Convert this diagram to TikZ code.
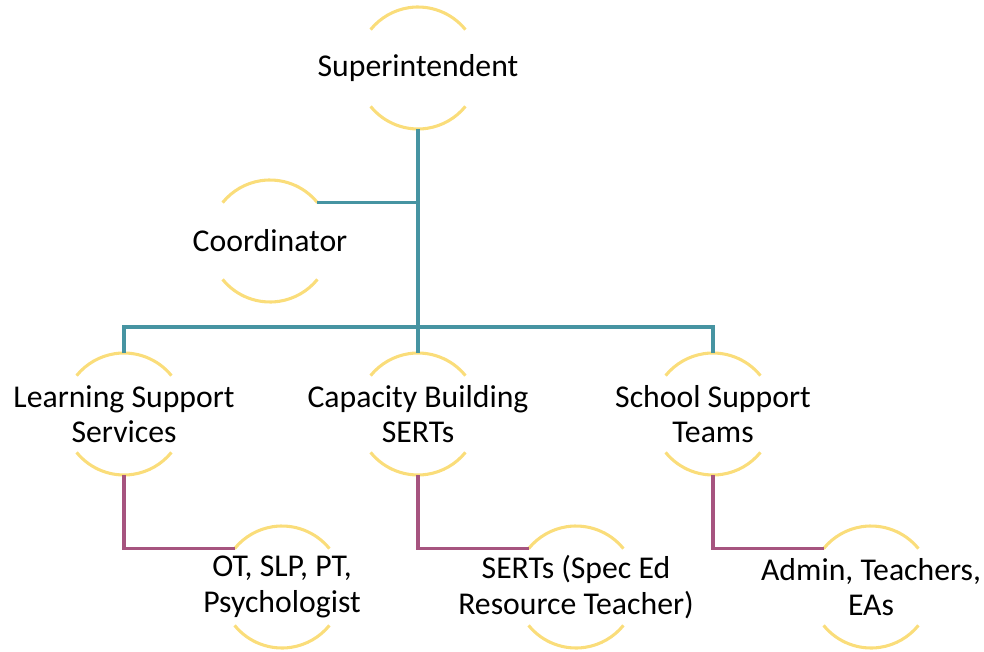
\documentclass[tikz,border=0pt]{standalone}
\usepackage{fontspec}
\setmainfont{Carlito}
\usepackage{tikz}
\usetikzlibrary{positioning}
\definecolor{ringgold}{RGB}{250,221,122}
\definecolor{linkteal}{RGB}{70,148,162}
\definecolor{linkplum}{RGB}{166,84,127}
\tikzstyle{ring}=[circle, minimum size=91.5pt, inner sep=0pt, outer sep=0pt]
\tikzstyle{roletext}=[align=center, font=\fontsize{23.8}{26.5}\selectfont, text=black]
\tikzstyle{rim}=[draw=ringgold, line width=2.3pt]
\tikzstyle{upper}=[draw=linkteal, line width=2.3pt]
\tikzstyle{lower}=[draw=linkplum, line width=2.3pt]

\begin{document}
\begin{tikzpicture}[x=0.75pt, y=0.75pt]
    \useasboundingbox (0,0) rectangle (984,651);

    % Top: superintendent and coordinator
    \node[ring, label={[roletext]center:Superintendent}] (super) at (418,583) {};
    \node[ring, label={[roletext]center:Coordinator}] (coord) at (270,410) {};

    % Middle row: the three services
    \node[ring, label={[roletext]center:Learning Support\\ Services}] (lss) at (124,237) {};
    \node[ring, label={[roletext]center:Capacity Building\\ SERTs}] (cap) at (418,237) {};
    \node[ring, label={[roletext]center:School Support\\ Teams}] (sst) at (713,237) {};

    % Bottom row: staff under each service
    \node[ring, label={[roletext]center:OT, SLP, PT,\\ Psychologist}] (staff) at (282,64) {};
    \node[ring, label={[roletext]center:SERTs (Spec Ed\\ Resource Teacher)}] (serts) at (576,64) {};
    \node[ring, label={[roletext]center:Admin, Teachers,\\ EAs}] (admin) at (871,64) {};

    % open rings: upper and lower arcs only
    \foreach \n in {super,coord,lss,cap,sst,staff,serts,admin} {
      \draw[rim] (\n.39) arc[start angle=39, end angle=141, radius=45.75pt];
      \draw[rim] (\n.219) arc[start angle=219, end angle=321, radius=45.75pt];
    }

    \coordinate (bus) at (418,324);
    \draw[upper] (super.south) -- (cap.north);
    \draw[upper] (coord.39) -- (coord.39 -| super.south);
    \draw[upper] (lss.north) |- (bus) -| (sst.north);

    \draw[lower] (lss.south) |- (staff.141);
    \draw[lower] (cap.south) |- (serts.141);
    \draw[lower] (sst.south) |- (admin.141);

  \end{tikzpicture}
\end{document}
